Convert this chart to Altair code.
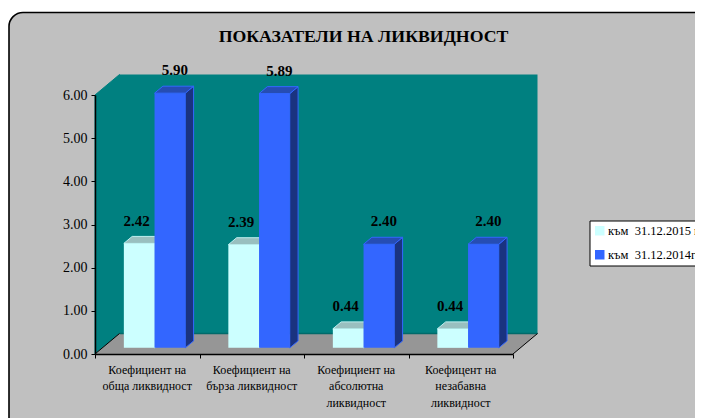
import altair as alt
import pandas as pd

title_text = "ПОКАЗАТЕЛИ НА ЛИКВИДНОСТ"
categories = ["Коефициент на\nобща ликвидност", "Коефициент на\nбърза ликвидност",
              "Коефициент на\nабсолютна\nликвидност", "Коефицент на\nнезабавна\nликвидност"]
series_names = ["към\u00a0 31.12.2015 г.", "към\u00a0 31.12.2014г."]
values_2015 = [2.42, 2.39, 0.44, 0.44]
values_2014 = [5.90, 5.89, 2.40, 2.40]

FONT = "Liberation Serif"
PW, PH = 418, 259
XU, YU = PW / 4, PH / 6        # pixels per category / per value unit
DX, DY = 24.5 / XU, 20.5 / YU  # full depth of the 3D box in data units
D0, D1 = 0.30, 0.64            # depth range of bars
GAP = 21.5 / XU
BW = 30.7 / XU


def px(x, d):
    return x + DX * d


def py(y, d):
    return y + DY * d


front, side, top, labels = [], [], [], []
for i, cat in enumerate(categories):
    for s, (name, vals) in enumerate(zip(series_names, (values_2015, values_2014))):
        v = vals[i]
        x0 = i + GAP + s * BW
        x1 = x0 + BW
        key = f"{i}-{s}"
        front.append(dict(x=px(x0, D0), x2=px(x1, D0), y=py(0, D0), y2=py(v, D0), s=name))
        for d in (D0, D1):
            side.append(dict(x=px(x1, d), y=py(0, d), y2=py(v, d), k=key, s=name))
            top.append(dict(y=py(v, d), x=px(x0, d), x2=px(x1, d), k=key, s=name))
        labels.append(dict(x=px((x0 + x1) / 2, D0), y=py(v, D0), t=f"{v:.2f}", s=name, n=s))

xs = alt.Scale(domain=[0, 4], range=[0, PW], nice=False, zero=False)
ys = alt.Scale(domain=[0, 6], range=[PH, 0], nice=False, zero=False)
X = lambda f="x": alt.X(f"{f}:Q", scale=xs, title=None)
Y = lambda f="y": alt.Y(f"{f}:Q", scale=ys, title=None)

axes = alt.Chart(pd.DataFrame({"x": [0, 4], "y": [0, 0]})).mark_point(opacity=0).encode(
    x=alt.X("x:Q", scale=xs, axis=alt.Axis(
        values=[0, 1, 2, 3, 4], labels=False, title=None, grid=False, domainColor="#000000",
        domainWidth=1.5, tickColor="#000000", tickSize=4, zindex=1)),
    y=alt.Y("y:Q", scale=ys, axis=alt.Axis(
        values=[0, 1, 2, 3, 4, 5, 6], format=".2f", title=None, grid=False, domainColor="#000000",
        domainWidth=1.5, tickColor="#000000", tickSize=4, labelFont=FONT, labelFontSize=14,
        labelColor="#000000", labelPadding=4, zindex=1)),
)

bg = alt.Chart(pd.DataFrame({"a": [0]})).mark_rect(
    fill="#C0C0C0", stroke="#000000", strokeWidth=1.6, cornerRadius=14
).encode(x=alt.value(-86), x2=alt.value(800), y=alt.value(-82.5), y2=alt.value(500))

title_mark = alt.Chart(pd.DataFrame({"t": [title_text]})).mark_text(
    font=FONT, fontSize=17.75, fontWeight="bold", color="#000000"
).encode(x=alt.value(268.5), y=alt.value(-58), text="t:N")

wall = alt.Chart(pd.DataFrame([dict(x=DX, x2=4 + DX, y=DY, y2=6 + DY)])).mark_rect(
    fill="#008080").encode(x=X(), x2="x2:Q", y=Y(), y2="y2:Q")
lwall = alt.Chart(pd.DataFrame([dict(x=0, y=0, y2=6), dict(x=DX, y=DY, y2=6 + DY)])).mark_area(
    fill="#008080", stroke="#008080", strokeWidth=1).encode(x=X(), y=Y(), y2="y2:Q")
floor = alt.Chart(pd.DataFrame([dict(y=0, x=0, x2=4), dict(y=DY, x=DX, x2=4 + DX)])).mark_area(
    fill="#969696", orient="horizontal").encode(y=Y(), x=X(), x2="x2:Q")
edges = alt.Chart(pd.DataFrame([
    dict(x=0, y=0, k="l"), dict(x=DX, y=DY, k="l"),
    dict(x=4, y=0, k="r"), dict(x=4 + DX, y=DY, k="r"),
])).mark_line(color="#000000", strokeWidth=1).encode(x=X(), y=Y(), detail="k:N")
back = alt.Chart(pd.DataFrame([dict(x=DX, y=DY), dict(x=4 + DX, y=DY)])).mark_line(
    color="#006A6A", strokeWidth=1.5).encode(x=X(), y=Y())

side_df = pd.DataFrame(side)
top_df = pd.DataFrame(top)
side_colors = alt.Scale(domain=series_names, range=["#9FD0D0", "#1A3380"])
top_colors = alt.Scale(domain=series_names, range=["#99BFBF", "#264DB3"])
stroke_colors = alt.Scale(domain=series_names, range=["#BFEFEF", "#3366FF"])

side_m = alt.Chart(side_df).mark_area(line=False, strokeWidth=1).encode(
    x=X(), y=Y(), y2="y2:Q", detail="k:N",
    fill=alt.Fill("s:N", scale=side_colors, legend=None),
    stroke=alt.Stroke("s:N", scale=stroke_colors, legend=None))
top_m = alt.Chart(top_df).mark_area(orient="horizontal", strokeWidth=1).encode(
    y=Y(), x=X(), x2="x2:Q", detail="k:N",
    fill=alt.Fill("s:N", scale=top_colors, legend=None),
    stroke=alt.Stroke("s:N", scale=stroke_colors, legend=None))
front_m = alt.Chart(pd.DataFrame(front)).mark_rect().encode(
    x=X(), x2="x2:Q", y=Y(), y2="y2:Q",
    color=alt.Color("s:N", scale=alt.Scale(domain=series_names, range=["#CCFFFF", "#3366FF"]),
                    legend=alt.Legend(
                        title=None, orient="none", legendX=494.5, legendY=125.5,
                        fillColor="#FFFFFF", strokeColor="#000000", padding=4,
                        symbolType="square", symbolSize=90, symbolStrokeWidth=0,
                        labelFont=FONT, labelFontSize=12.5, labelColor="#000000", labelOffset=2,
                        labelLimit=300, rowPadding=11, symbolOpacity=1)))
labels_df = pd.DataFrame(labels)
val_white = alt.Chart(labels_df[labels_df.n == 0]).mark_text(
    font=FONT, fontSize=15, fontWeight="bold", color="#000000", dy=-22.5, dx=-2.5
).encode(x=X(), y=Y(), text="t:N")
val_blue = alt.Chart(labels_df[labels_df.n == 1]).mark_text(
    font=FONT, fontSize=15, fontWeight="bold", color="#000000", dy=-23, dx=5
).encode(x=X(), y=Y(), text="t:N")

cat_df = pd.DataFrame({"x": [i + 0.5 for i in range(4)], "y": [0] * 4, "t": categories})
cat_text = alt.Chart(cat_df).mark_text(
    font=FONT, fontSize=12, color="#000000", baseline="top", lineBreak="\n", lineHeight=16.5, dy=10.5
).encode(x=X(), y=Y(), text="t:N")

chart = alt.layer(axes, bg, title_mark, wall, lwall, floor, back, edges, side_m, top_m, front_m,
                  val_white, val_blue, cat_text).resolve_scale(
    fill="independent", stroke="independent", color="independent"
).properties(
    width=PW, height=PH,
    padding={"left": 87, "top": 87, "right": 182, "bottom": 64},
    autosize=alt.AutoSizeParams(type="none"),
    background="#FFFFFF",
).configure_view(stroke=None)

chart.save("out.html", embed_options={"renderer": "svg", "actions": False})
